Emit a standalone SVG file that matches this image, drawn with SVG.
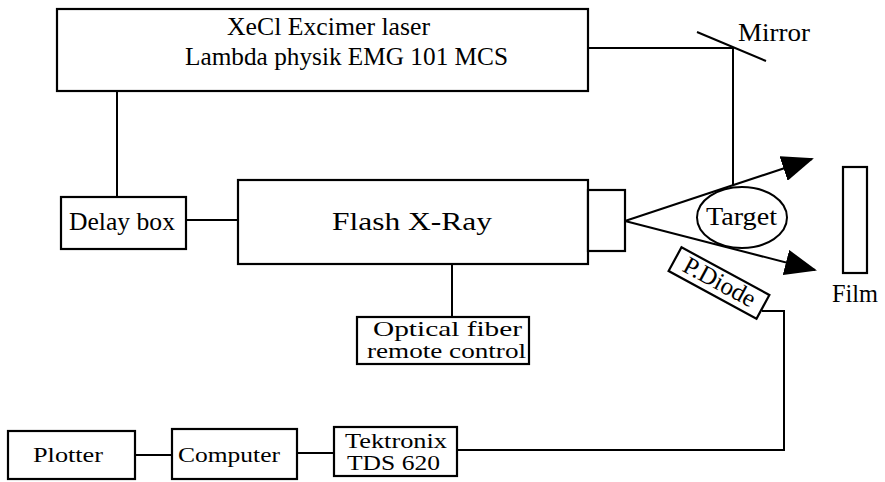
<svg xmlns="http://www.w3.org/2000/svg" width="885" height="482" viewBox="0 0 885 482">
<style>
.box{fill:#fff;stroke:#000;stroke-width:2.2}
.ln{fill:none;stroke:#000;stroke-width:2}
.t{font-family:"Liberation Serif","Times New Roman",serif;font-size:25px;fill:#000}
.c{font-family:"Liberation Serif","Times New Roman",serif;font-size:21px;fill:#000}
</style>
<defs>
<marker id="ah" viewBox="0 0 32 26" refX="30" refY="13" markerWidth="32" markerHeight="26" markerUnits="userSpaceOnUse" orient="auto">
<path d="M0,0 L32,13 L0,26 Z" fill="#000"/>
</marker>
</defs>
<rect width="885" height="482" fill="#fff"/>
<g id="connectors">
<line class="ln" x1="117" y1="91" x2="117" y2="197"/>
<line class="ln" x1="186" y1="220" x2="238" y2="220"/>
<polyline class="ln" points="588,48 733,48 733,185"/>
<line class="ln" x1="697" y1="32" x2="766" y2="61"/>
<line class="ln" x1="452" y1="263" x2="452" y2="317"/>
<line class="ln" x1="625" y1="221" x2="812" y2="159" marker-end="url(#ah)"/>
<line class="ln" x1="625" y1="221" x2="815" y2="270" marker-end="url(#ah)"/>
<polyline class="ln" points="762,311 784,311 784,450 457,450"/>
<line class="ln" x1="135" y1="455" x2="172" y2="455"/>
<line class="ln" x1="297" y1="453" x2="334" y2="453"/>
</g>
<g id="laser">
<rect class="box" x="57" y="9" width="531" height="82"/>
<text class="t" x="227" y="35" textLength="203" lengthAdjust="spacingAndGlyphs">XeCl Excimer laser</text>
<text class="t" x="185" y="65" textLength="323" lengthAdjust="spacingAndGlyphs">Lambda physik EMG 101 MCS</text>
</g>
<g id="mirror">
<text class="t" x="738" y="41" textLength="72" lengthAdjust="spacingAndGlyphs">Mirror</text>
</g>
<g id="delay">
<rect class="box" x="61" y="197" width="125" height="52"/>
<text class="t" x="69" y="230" textLength="106" lengthAdjust="spacingAndGlyphs">Delay box</text>
</g>
<g id="flash">
<rect class="box" x="238" y="180" width="350" height="84"/>
<rect class="box" x="588" y="190" width="37" height="61"/>
<text class="t" x="332" y="230" font-size="28" textLength="160" lengthAdjust="spacingAndGlyphs">Flash X-Ray</text>
</g>
<g id="optical">
<rect class="box" x="357" y="317" width="172" height="47"/>
<text class="c" x="373" y="336" font-size="17" textLength="149" lengthAdjust="spacingAndGlyphs">Optical fiber</text>
<text class="c" x="367" y="358" font-size="17" textLength="159" lengthAdjust="spacingAndGlyphs">remote control</text>
</g>
<g id="target">
<ellipse cx="742" cy="217.5" rx="45" ry="30.5" fill="none" stroke="#000" stroke-width="2"/>
<text class="t" x="706" y="225" textLength="71" lengthAdjust="spacingAndGlyphs">Target</text>
</g>
<g id="film">
<rect class="box" x="843" y="167" width="24" height="106"/>
<text class="t" x="832" y="302" textLength="46" lengthAdjust="spacingAndGlyphs">Film</text>
</g>
<g id="pdiode" transform="translate(719,283) rotate(28.5)">
<rect class="box" x="-50" y="-13.5" width="100" height="27"/>
<text class="t" x="0" y="7" font-size="22" text-anchor="middle">P.Diode</text>
</g>
<g id="plotter">
<rect class="box" x="8" y="431" width="127" height="48"/>
<text class="c" x="33" y="462" font-size="22" textLength="70" lengthAdjust="spacingAndGlyphs">Plotter</text>
</g>
<g id="computer">
<rect class="box" x="172" y="429" width="125" height="50"/>
<text class="c" x="178" y="462" font-size="22" textLength="102" lengthAdjust="spacingAndGlyphs">Computer</text>
</g>
<g id="tektronix">
<rect class="box" x="334" y="427" width="123" height="49"/>
<text class="c" x="345" y="448" font-size="17" textLength="102" lengthAdjust="spacingAndGlyphs">Tektronix</text>
<text class="c" x="347" y="470" font-size="17" textLength="93" lengthAdjust="spacingAndGlyphs">TDS 620</text>
</g>
</svg>
